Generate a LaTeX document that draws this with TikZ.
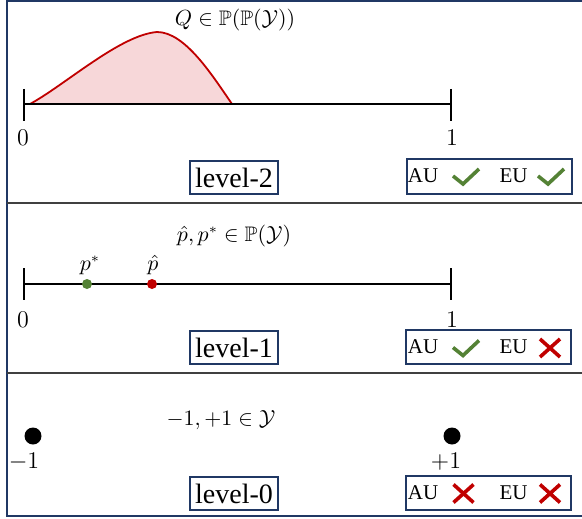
\documentclass[tikz,border=0pt]{standalone}
\usepackage{amssymb}
\usepackage{fontspec}
\newfontfamily\tms{Liberation Serif}
\definecolor{navy}{RGB}{32,56,100}
\definecolor{divgray}{RGB}{64,64,64}
\definecolor{okgreen}{RGB}{84,130,53}
\definecolor{nored}{RGB}{192,0,0}
\definecolor{pinkfill}{RGB}{247,215,217}
\begin{document}
\begin{tikzpicture}[x=0.5pt,y=-0.5pt,
  lvlbox/.style={draw=navy,line width=1pt,inner sep=0pt,minimum width=44pt,minimum height=16.5pt,font=\tms\fontsize{14}{16}\selectfont},
  aubox/.style={draw=navy,line width=1pt,inner sep=0pt,minimum width=82.5pt,minimum height=17pt},
  autext/.style={inner sep=0pt,font=\tms\fontsize{10.5}{12}\selectfont},
  ticklab/.style={inner sep=0pt,font=\fontsize{13}{15}\selectfont},
  mathlab/.style={inner sep=0pt,font=\fontsize{10.5}{12}\selectfont},
  axisline/.style={line width=0.75pt},
  tickline/.style={line width=1pt},
  okmark/.pic={\draw[okgreen,line width=1.8pt] (-13,-0.5) -- (-3,7.5) -- (13,-7.5);},
  nomark/.pic={\draw[nored,line width=1.8pt] (-10,-9) -- (10,9) (-10,9) -- (10,-9);}
]
\useasboundingbox (0,0) rectangle (582,518);
% frame
\draw[navy,line width=1pt] (590,1) -- (7,1) -- (7,516) -- (590,516);
\draw[divgray,line width=1pt] (7,203) -- (590,203);
\draw[divgray,line width=1pt] (7,373) -- (590,373);

% ---------- panel 1 ----------
\coordinate (a0) at (24,104);
\coordinate (a1) at (451,104);
\draw[nored,line width=0.9pt,fill=pinkfill] (30,104) .. controls (65,85) and (120,35) .. (157,32) .. controls (185,32) and (212,75) .. (232,104);
\draw[axisline] (a0) -- (a1);
\draw[tickline] (24,89) -- (24,121);
\draw[tickline] (451,89) -- (451,121);
\node[ticklab] (z0) at (23,138) {$0$};
\node[ticklab] (o0) at (452,138) {$1$};
\node[mathlab] (q) at (235,20) {$Q\in\mathbb{P}(\mathbb{P}(\mathcal{Y}))$};
\node[lvlbox] (lv2) at (234,177.5) {level-2};
\node[aubox] (b2) at (489,176.5) {};
\node[autext] (au2) at (423,176) {AU};
\node[autext] (eu2) at (513.5,176) {EU};
\pic at (466,176.5) {okmark};
\pic at (551,176.5) {okmark};

% ---------- panel 2 ----------
\coordinate (c0) at (24,284);
\coordinate (c1) at (451,284);
\draw[axisline] (c0) -- (c1);
\draw[tickline] (24,268) -- (24,300);
\draw[tickline] (451,268) -- (451,300);
\node[ticklab] (z1) at (23,320) {$0$};
\node[ticklab] (o1) at (452,320) {$1$};
\node[mathlab] (t1) at (234,236) {$\hat{p},p^*\in\mathbb{P}(\mathcal{Y})$};
\node[circle,fill=okgreen,inner sep=0pt,minimum size=5pt] (ps) at (87,284) {};
\node[circle,fill=nored,inner sep=0pt,minimum size=5pt] (ph) at (152,284) {};
\node[mathlab] (psl) at (90,265) {$p^*$};
\node[mathlab] (phl) at (153,265) {$\hat{p}$};
\node[lvlbox] (lv1) at (234,347.5) {level-1};
\node[aubox] (b1) at (488.5,347) {};
\node[autext] (au1) at (423,347) {AU};
\node[autext] (eu1) at (513.5,347) {EU};
\pic at (466,348) {okmark};
\pic at (550,348) {nomark};

% ---------- panel 3 ----------
\node[mathlab] (t0) at (221,420) {$-1,+1\in\mathcal{Y}$};
\node[circle,fill=black,inner sep=0pt,minimum size=8.5pt] (dm) at (33,436) {};
\node[circle,fill=black,inner sep=0pt,minimum size=8.5pt] (dp) at (452,436) {};
\node[ticklab] (lm) at (24,462) {$-1$};
\node[ticklab] (lp) at (446,462) {$+1$};
\node[lvlbox] (lv0) at (234,493.5) {level-0};
\node[aubox] (b0) at (488.5,493) {};
\node[autext] (au0) at (423,493) {AU};
\node[autext] (eu0) at (513.5,493) {EU};
\pic at (463.5,493.5) {nomark};
\pic at (550,493.5) {nomark};
\end{tikzpicture}
\end{document}
